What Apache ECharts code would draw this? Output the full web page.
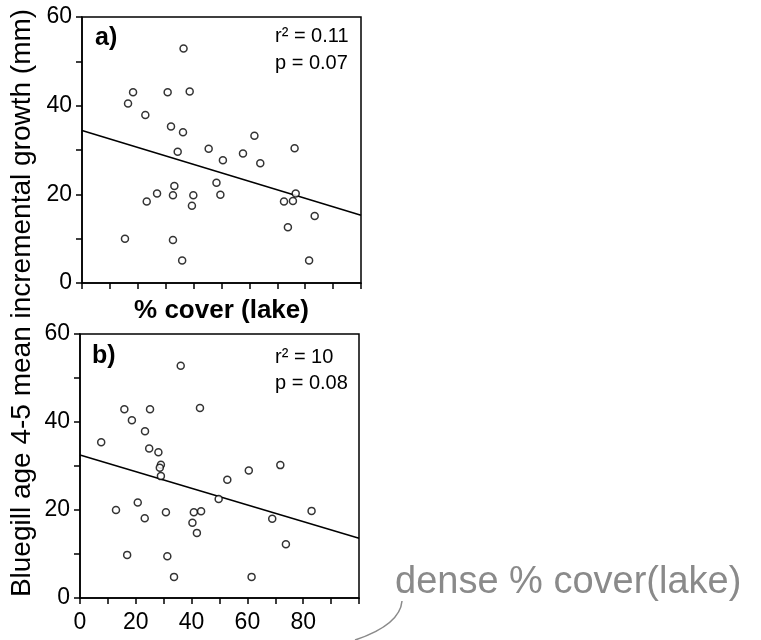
<!DOCTYPE html>
<html>
<head>
<meta charset="utf-8">
<script src="https://cdn.jsdelivr.net/npm/echarts@6.0.0/dist/echarts.min.js"></script>
<style>
  html, body { margin: 0; padding: 0; background: #fff; }
  #main { width: 761px; height: 640px; }
</style>
</head>
<body>
<div id="main"></div>
<script>
// panel a) values
var coverA = [36.4, 18.3, 16.5, 30.7, 38.6, 22.7, 31.9, 36.2, 34.3, 45.4, 50.5, 57.7, 61.8, 63.9, 76.2, 48.2,
  33.1, 32.6, 26.9, 23.2, 39.9, 39.4, 49.6, 72.4, 75.6, 76.6, 83.4, 73.8, 15.4, 32.6, 35.9, 81.4];
var growthA = [52.9, 43.0, 40.5, 43.0, 43.2, 37.9, 35.3, 34.0, 29.6, 30.3, 27.7, 29.2, 33.2, 27.0, 30.4, 22.6,
  21.9, 19.8, 20.2, 18.4, 19.8, 17.4, 19.9, 18.4, 18.5, 20.2, 15.1, 12.6, 10.0, 9.7, 5.1, 5.1];
// panel b)
var coverB = [36.1, 15.9, 25.1, 43.0, 18.6, 23.3, 7.6, 24.8, 28.1, 29.0, 28.6, 29.0, 52.8, 60.5, 71.8, 49.7,
  20.7, 12.9, 30.8, 40.8, 43.4, 83.0, 23.2, 40.3, 68.9, 41.9, 73.8, 16.9, 31.3, 33.7, 61.5];
var growthB = [52.8, 42.9, 42.9, 43.2, 40.4, 37.9, 35.4, 34.0, 33.1, 30.3, 29.6, 27.7, 26.9, 29.0, 30.2, 22.5,
  21.7, 20.0, 19.5, 19.5, 19.7, 19.8, 18.1, 17.1, 18.0, 14.8, 12.2, 9.8, 9.5, 4.8, 4.8];
// fitted lines
var fitX = [0, 100];
var fitA = [34.4, 15.3];
var fitB = [32.5, 13.6];
var xTickLabels = [0, 20, 40, 60, 80];
var yTickLabels = [0, 20, 40, 60];

var font = "'Liberation Sans', Arial, Helvetica, sans-serif";
var chart = echarts.init(document.getElementById('main'), null, {renderer: 'canvas'});

function pairs(xs, ys) {
  return xs.map(function (x, i) { return [x, ys[i]]; });
}

function xAxis(idx, showLabels, name) {
  return {
    gridIndex: idx, type: 'value', min: 0, max: 100, interval: 10,
    axisLine: {lineStyle: {color: '#000', width: 1.5}},
    axisTick: {length: 6, lineStyle: {color: '#000', width: 1.5}},
    axisLabel: {
      show: showLabels, color: '#000', fontSize: 23, fontFamily: font, margin: 13,
      formatter: function (v) { return xTickLabels.indexOf(v) >= 0 ? String(v) : ''; }
    },
    splitLine: {show: false},
    name: name, nameLocation: 'middle', nameGap: 15,
    nameTextStyle: {color: '#000', fontSize: 26, fontWeight: 'bold', fontFamily: font}
  };
}

function yAxis(idx) {
  return {
    gridIndex: idx, type: 'value', min: 0, max: 60, interval: 10,
    axisLine: {lineStyle: {color: '#000', width: 1.5}},
    axisTick: {length: 6, lineStyle: {color: '#000', width: 1.5}},
    axisLabel: {
      color: '#000', fontSize: 23, fontFamily: font, margin: 10,
      formatter: function (v) { return yTickLabels.indexOf(v) >= 0 ? String(v) : ''; }
    },
    splitLine: {show: false}
  };
}

function dots(idx, xs, ys) {
  return {
    type: 'scatter', xAxisIndex: idx, yAxisIndex: idx, data: pairs(xs, ys),
    symbol: 'circle', symbolSize: 7,
    itemStyle: {color: '#fff', borderColor: '#000', borderWidth: 1.5},
    z: 3
  };
}

function fit(idx, ys) {
  return {
    type: 'line', xAxisIndex: idx, yAxisIndex: idx, data: pairs(fitX, ys),
    symbol: 'none', lineStyle: {color: '#000', width: 1.5}, z: 2
  };
}

var option = {
  backgroundColor: '#fff',
  animation: false,
  grid: [
    {left: 82, top: 17, width: 279, height: 266, show: true, borderColor: '#000', borderWidth: 1.5},
    {left: 80, top: 334, width: 279, height: 264, show: true, borderColor: '#000', borderWidth: 1.5}
  ],
  xAxis: [xAxis(0, false, '% cover (lake)'), xAxis(1, true, '')],
  yAxis: [yAxis(0), yAxis(1)],
  series: [dots(0, coverA, growthA), fit(0, fitA), dots(1, coverB, growthB), fit(1, fitB)],
  graphic: [
    {type: 'text', x: 22, y: 303, rotation: Math.PI / 2,
      style: {text: 'Bluegill age 4-5 mean incremental growth (mm)', fill: '#000',
        font: '28px ' + font, textAlign: 'center', textVerticalAlign: 'middle'}},
    {type: 'text', x: 95, y: 38, style: {text: 'a)', fill: '#000', font: 'bold 25px ' + font, textVerticalAlign: 'middle'}},
    {type: 'text', x: 275, y: 36, style: {text: 'r² = 0.11', fill: '#000', font: '20px ' + font, textVerticalAlign: 'middle'}},
    {type: 'text', x: 275, y: 63, style: {text: 'p = 0.07', fill: '#000', font: '20px ' + font, textVerticalAlign: 'middle'}},
    {type: 'text', x: 92, y: 356, style: {text: 'b)', fill: '#000', font: 'bold 25px ' + font, textVerticalAlign: 'middle'}},
    {type: 'text', x: 275, y: 357, style: {text: 'r² = 10', fill: '#000', font: '20px ' + font, textVerticalAlign: 'middle'}},
    {type: 'text', x: 275, y: 383, style: {text: 'p = 0.08', fill: '#000', font: '20px ' + font, textVerticalAlign: 'middle'}},
    // handwritten note
    {type: 'text', x: 395, y: 583, style: {text: 'dense % cover(lake)', fill: '#8a8a8a',
      font: '38px ' + font, textVerticalAlign: 'middle'}},
    {type: 'bezierCurve', shape: {x1: 402, y1: 601, cpx1: 400, cpy1: 625, x2: 355, y2: 640},
      style: {stroke: '#8a8a8a', lineWidth: 1.5, fill: null}}
  ]
};
chart.setOption(option);
</script>
</body>
</html>
